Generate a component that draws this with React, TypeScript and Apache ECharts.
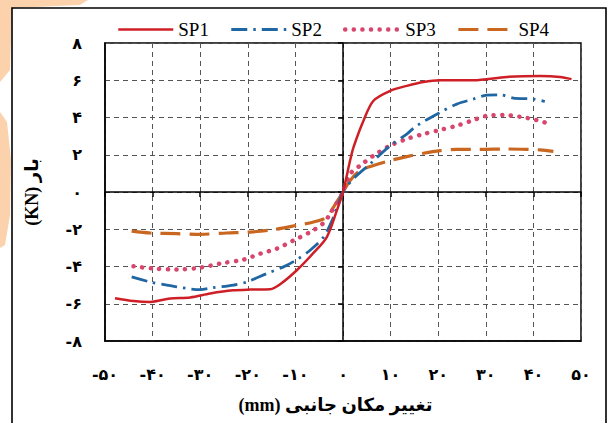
import React, { useEffect, useRef } from "react";
import * as echarts from "echarts";

// ---- data ----
const SERIES_NAMES = ["SP1", "SP2", "SP3", "SP4"];

const SP1: [number, number][] = [
  [-47.9, -5.7], [-44, -5.85], [-40.5, -5.9], [-36.3, -5.72], [-32.1, -5.66], [-27.9, -5.45],
  [-23.1, -5.28], [-19.5, -5.24], [-15.3, -5.22], [-13.2, -4.95], [-9.7, -4.2], [-6.3, -3.3],
  [-3.4, -2.42], [-1.3, -1.0], [0, 0], [1.5, 1.7], [2.2, 2.4], [4.3, 3.83], [6.4, 4.9],
  [9.9, 5.43], [13.4, 5.7], [16.9, 5.91], [20.4, 6.0], [27.4, 6.0], [34.4, 6.18],
  [41.4, 6.23], [45.6, 6.18], [48.0, 6.06],
];

const SP2: [number, number][] = [
  [-44.4, -4.56], [-40.5, -4.83], [-37.0, -5.0], [-30.0, -5.24], [-27.6, -5.15], [-23.0, -5.0],
  [-20.2, -4.83], [-16.0, -4.38], [-12.5, -4.02], [-9.7, -3.63], [-6.9, -3.13], [-4.1, -2.42],
  [-2.0, -1.35], [0, 0], [2.5, 0.79], [5.7, 1.51], [9.9, 2.49], [13.4, 3.11], [15.5, 3.56],
  [20.4, 4.27], [23.9, 4.72], [27.4, 4.99], [30.2, 5.2], [33.0, 5.22], [35.8, 5.04],
  [40.0, 4.99], [42.4, 4.86],
];

const SP3: [number, number][] = [
  [-44.0, -3.99], [-39.8, -4.11], [-34.9, -4.16], [-30.0, -4.06], [-25.8, -3.84], [-20.9, -3.63],
  [-17.4, -3.31], [-13.9, -3.04], [-10.4, -2.6], [-6.9, -2.15], [-4.1, -1.67], [-2.7, -1.17],
  [0, 0], [1.5, 0.97], [3.6, 1.42], [6.4, 1.95], [9.9, 2.49], [13.4, 2.85], [16.9, 3.11],
  [20.4, 3.33], [23.9, 3.56], [27.4, 3.86], [30.2, 4.09], [33.7, 4.13], [37.2, 4.04],
  [40.7, 3.86], [43.1, 3.68],
];

const SP4: [number, number][] = [
  [-44.4, -2.1], [-40.5, -2.2], [-34.9, -2.24], [-30.0, -2.27], [-24.4, -2.2], [-19.5, -2.15],
  [-14.6, -2.02], [-9.7, -1.79], [-6.2, -1.61], [-3.4, -1.35], [-2.0, -0.81], [0, 0],
  [1.5, 0.62], [3.6, 1.15], [6.4, 1.42], [9.9, 1.69], [13.4, 1.9], [16.9, 2.08], [20.4, 2.22],
  [23.9, 2.29], [28.8, 2.29], [34.4, 2.31], [38.6, 2.29], [41.4, 2.26], [44.2, 2.18],
];

const X_TICKS = [-50, -40, -30, -20, -10, 0, 10, 20, 30, 40, 50];
const X_TICK_LABELS = ["-۵۰", "-۴۰", "-۳۰", "-۲۰", "-۱۰", "۰", "۱۰", "۲۰", "۳۰", "۴۰", "۵۰"];
const Y_TICKS = [-8, -6, -4, -2, 0, 2, 4, 6, 8];
const Y_TICK_LABELS = ["-۸", "-۶", "-۴", "-۲", "۰", "۲", "۴", "۶", "۸"];

const X_TITLE = "\u202Bتغییر مکان جانبی (mm)\u202C";
const Y_TITLE = "\u202Bبار (KN)\u202C";

const COLORS = ["#cf1f26", "#1f66a3", "#d8456d", "#c9661f"];

const FONT = "'Liberation Serif', 'DejaVu Sans', serif";
const DIGIT_FONT = "'DejaVu Sans', 'Liberation Serif', sans-serif";

const lookup = (ticks: number[], labels: string[]) => (v: number) => {
  const i = ticks.findIndex((t) => Math.abs(t - v) < 1e-6);
  return i >= 0 ? labels[i] : "";
};

export default function App() {
  const ref = useRef<HTMLDivElement>(null);

  useEffect(() => {
    if (!ref.current) return;
    const chart = echarts.init(ref.current, undefined, { renderer: "svg" });

    const splitLine = {
      show: true,
      lineStyle: { color: "#555", width: 1, type: [5, 4] as number[] },
    };

    const lineDefs = [
      { data: SP1, width: 2.5, type: "solid" as any, cap: "butt" },
      { data: SP2, width: 2.8, type: [16, 6, 2.5, 6], cap: "butt" },
      { data: SP3, width: 4.5, type: [0.1, 8.5], cap: "round" },
      { data: SP4, width: 3.2, type: [20, 9], cap: "butt" },
    ];

    const lineStyleOf = (i: number) => ({
      color: COLORS[i],
      width: lineDefs[i].width,
      type: lineDefs[i].type,
      cap: lineDefs[i].cap,
    });

    chart.setOption({
      animation: false,
      backgroundColor: "#fff",
      graphic: [
        {
          type: "polygon",
          silent: true,
          z: -10,
          shape: { points: [[0, 0], [88, 0], [80, 5], [12, 8], [10, 70], [0, 82]] },
          style: { fill: "#fcd2ad" },
        },
        {
          type: "polygon",
          silent: true,
          z: -10,
          shape: { points: [[0, 112], [7, 122], [11, 160], [10, 215], [5, 245], [0, 248]] },
          style: { fill: "#fcd2ad" },
        },
        {
          type: "rect",
          silent: true,
          z: 100,
          shape: { x: 12, y: 8, width: 594, height: 430 },
          style: { fill: "none", stroke: "#000", lineWidth: 1.6 },
        },
      ],
      legend: {
        data: SERIES_NAMES.map((n, i) => ({ name: n, lineStyle: lineStyleOf(i) })),
        left: 112,
        top: 15,
        itemWidth: 55,
        itemHeight: 14,
        itemGap: 21,
        itemStyle: { opacity: 0 },
        textStyle: { fontFamily: FONT, fontSize: 19, color: "#000" },
      },
      grid: {
        left: 105,
        right: 31,
        top: 43,
        bottom: 82,
        show: true,
        borderColor: "#000",
        borderWidth: 1.5,
        backgroundColor: "transparent",
      },
      xAxis: [
        {
          type: "value",
          min: -50,
          max: 50,
          interval: 10,
          position: "bottom",
          axisLine: { onZero: false, lineStyle: { color: "#000", width: 1.5 } },
          axisTick: { show: false },
          splitLine,
          axisLabel: {
            formatter: lookup(X_TICKS, X_TICK_LABELS),
            fontFamily: DIGIT_FONT,
            fontSize: 16,
            fontWeight: "bold",
            color: "#000",
            margin: 25,
          },
          name: X_TITLE,
          nameLocation: "middle",
          nameGap: 55,
          nameTextStyle: { fontFamily: FONT, fontSize: 18, fontWeight: "bold", color: "#000", padding: [0, 15, 0, 0] },
        },
        {
          type: "value",
          min: -50,
          max: 50,
          interval: 10,
          position: "top",
          axisLine: { onZero: true, lineStyle: { color: "#000", width: 1.5 } },
          axisTick: { show: true, inside: true, length: 5, lineStyle: { color: "#000", width: 1.5 } },
          axisLabel: { show: false },
          splitLine: { show: false },
        },
      ],
      yAxis: [
        {
          type: "value",
          min: -8,
          max: 8,
          interval: 2,
          position: "left",
          axisLine: { onZero: false, lineStyle: { color: "#000", width: 1.5 } },
          axisTick: { show: false },
          splitLine,
          axisLabel: {
            formatter: lookup(Y_TICKS, Y_TICK_LABELS),
            fontFamily: DIGIT_FONT,
            fontSize: 16,
            fontWeight: "bold",
            color: "#000",
            margin: 23,
          },
          name: Y_TITLE,
          nameLocation: "middle",
          nameGap: 64,
          nameRotate: 90,
          nameTextStyle: { fontFamily: FONT, fontSize: 18, fontWeight: "bold", color: "#000" },
        },
        {
          type: "value",
          min: -8,
          max: 8,
          interval: 2,
          position: "right",
          axisLine: { onZero: true, lineStyle: { color: "#000", width: 1.5 } },
          axisTick: { show: true, inside: true, length: 5, lineStyle: { color: "#000", width: 1.5 } },
          axisLabel: { show: false },
          splitLine: { show: false },
        },
      ],
      series: lineDefs.map((d, i) => ({
        name: SERIES_NAMES[i],
        type: "line",
        xAxisIndex: 0,
        yAxisIndex: 0,
        data: d.data,
        smooth: 0.3,
        symbol: "none",
        showSymbol: false,
        color: COLORS[i],
        z: 10 - i,
        lineStyle: lineStyleOf(i),
      })),
    });

    return () => chart.dispose();
  }, []);

  return (
    <div
      ref={ref}
      style={{ position: "absolute", left: 0, top: 0, width: 612, height: 423 }}
    />
  );
}
